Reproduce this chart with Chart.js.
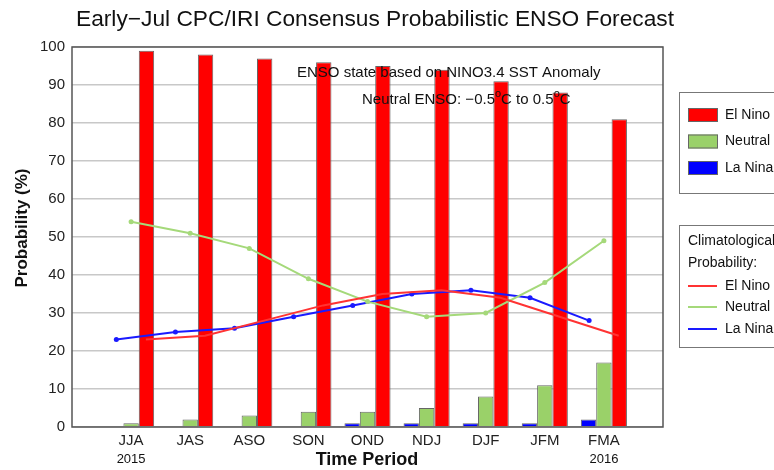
<!DOCTYPE html>
<html>
<head>
<meta charset="utf-8">
<script src="https://cdn.jsdelivr.net/npm/chart.js@4.4.1/dist/chart.umd.min.js"></script>
<style>
    html, body { margin: 0; padding: 0; background: #fff; }
    #wrap { position: relative; width: 774px; height: 470px; }
</style>
</head>
<body>
<div id="wrap"><canvas id="chart" width="774" height="470"></canvas></div>
<script>
// Сезоны прогноза и вероятности (%)
const PERIODS = ['JJA', 'JAS', 'ASO', 'SON', 'OND', 'NDJ', 'DJF', 'JFM', 'FMA'];
const EL_NINO = [99, 98, 97, 96, 95, 94, 91, 88, 81];
const NEUTRAL = [1, 2, 3, 4, 4, 5, 8, 11, 17];
const LA_NINA = [0, 0, 0, 0, 1, 1, 1, 1, 2];

// Климатологическая вероятность
const CLIM_EL_NINO = [23, 24, 28, 32, 35, 36, 34, 29, 24];
const CLIM_NEUTRAL = [54, 51, 47, 39, 33, 29, 30, 38, 49];
const CLIM_LA_NINA = [23, 25, 26, 29, 32, 35, 36, 34, 28];

const Y_TICKS = [0, 10, 20, 30, 40, 50, 60, 70, 80, 90, 100];
const YEARS = ['2015', '2016'];

const FONT = '"Liberation Sans", Arial, sans-serif';

const onDOMLoaded = () => {
    const ctx = document.getElementById('chart').getContext('2d');

    const toPoints = (values, shift) => values.map((v, i) => ({ x: i + shift, y: v }));

    /**
     * Рисуем заголовок, подписи осей, аннотацию и обе легенды поверх графика.
     */
    const decorations = {
        id: 'decorations',
        afterDatasetsDraw(chart) {
            const c = chart.ctx;
            const area = chart.chartArea;
            const xs = chart.scales.x;
            c.save();

            // рамка области построения
            c.strokeStyle = '#555';
            c.lineWidth = 1.5;
            c.strokeRect(area.left, area.top, area.right - area.left, area.bottom - area.top);

            c.fillStyle = '#111';
            c.textBaseline = 'middle';

            // заголовок
            c.font = '22px ' + FONT;
            c.textAlign = 'center';
            const title = 'Early\u2212Jul CPC/IRI Consensus Probabilistic ENSO Forecast';
            const tw = c.measureText(title).width;
            c.save();
            c.translate(375, 20);
            c.scale(598 / tw, 1);
            c.fillText(title, 0, 0);
            c.restore();

            // аннотация
            c.font = '15px ' + FONT;
            c.textAlign = 'left';
            c.fillText('ENSO state based on NINO3.4 SST Anomaly', 297, 73);
            let x = 362;
            const parts = [['Neutral ENSO: \u22120.5', 0], ['o', 1], ['C to 0.5', 0], ['o', 1], ['C', 0]];
            parts.forEach(([t, sup]) => {
                c.font = (sup ? '11px ' : '15px ') + FONT;
                c.fillText(t, x, sup ? 94 : 100);
                x += c.measureText(t).width;
            });

            // подписи осей
            c.font = 'bold 17px ' + FONT;
            c.textAlign = 'center';
            c.save();
            c.translate(22, 228);
            c.rotate(-Math.PI / 2);
            c.fillText('Probability (%)', 0, 0);
            c.restore();
            c.font = 'bold 18px ' + FONT;
            c.fillText('Time Period', 367, 460);

            c.font = '13px ' + FONT;
            c.fillText(YEARS[0], xs.getPixelForValue(0), 459);
            c.fillText(YEARS[1], xs.getPixelForValue(PERIODS.length - 1), 459);

            // легенда прогноза
            c.strokeStyle = '#777';
            c.lineWidth = 1;
            c.strokeRect(679.5, 92.5, 120, 101);
            c.textAlign = 'left';
            c.font = '14px ' + FONT;
            [['El Nino', '#ff0000', 115], ['Neutral', '#9ad169', 141.5], ['La Nina', '#0000ff', 168]].forEach(([t, col, y]) => {
                c.fillStyle = col;
                c.fillRect(688, y - 7, 30, 14);
                c.strokeStyle = '#666';
                c.strokeRect(688.5, y - 6.5, 29, 13);
                c.fillStyle = '#111';
                c.fillText(t, 725, y);
            });

            // легенда климатологии
            c.strokeStyle = '#777';
            c.strokeRect(679.5, 225.5, 120, 122);
            c.font = '14px ' + FONT;
            c.fillText('Climatological', 688, 241);
            c.fillText('Probability:', 688, 263);
            c.lineWidth = 2;
            [['El Nino', '#ff3333', 286], ['Neutral', '#a5d97a', 307], ['La Nina', '#1a1aff', 329]].forEach(([t, col, y]) => {
                c.strokeStyle = col;
                c.beginPath();
                c.moveTo(688, y);
                c.lineTo(717, y);
                c.stroke();
                c.fillStyle = '#111';
                c.fillText(t, 725, y);
            });

            c.restore();
        }
    };

    const barSet = (label, values, color) => ({
        type: 'bar',
        label,
        data: toPoints(values, 0),
        backgroundColor: color,
        borderColor: '#666',
        borderWidth: 1,
        categoryPercentage: 0.78,
        barPercentage: 1,
        order: 2
    });

    const lineSet = (label, values, shift, color, radius) => ({
        type: 'line',
        label,
        data: toPoints(values, shift),
        borderColor: color,
        backgroundColor: color,
        borderWidth: 2,
        pointRadius: radius,
        pointBorderWidth: 0,
        tension: 0,
        order: 1
    });

    new Chart(ctx, {
        data: {
            datasets: [
                barSet('La Nina', LA_NINA, '#0000ff'),
                barSet('Neutral', NEUTRAL, '#9ad169'),
                barSet('El Nino', EL_NINO, '#ff0000'),
                lineSet('Clim El Nino', CLIM_EL_NINO, 0.25, '#ff3333', 0),
                lineSet('Clim Neutral', CLIM_NEUTRAL, 0, '#a5d97a', 2.5),
                lineSet('Clim La Nina', CLIM_LA_NINA, -0.25, '#1a1aff', 2.5)
            ]
        },
        options: {
            responsive: false,
            animation: false,
            layout: { padding: { top: 47, right: 111, bottom: 0, left: 0 } },
            plugins: { legend: { display: false }, title: { display: false }, tooltip: { enabled: false } },
            scales: {
                x: {
                    type: 'linear',
                    offset: false,
                    min: -1,
                    max: PERIODS.length,
                    afterFit: (s) => { s.height = 43; },
                    afterBuildTicks: (s) => { s.ticks = PERIODS.map((p, i) => ({ value: i })); },
                    grid: { display: false, drawTicks: false },
                    border: { display: false },
                    ticks: {
                        callback: (v) => PERIODS[v],
                        font: { family: FONT, size: 15 },
                        color: '#222',
                        padding: 5,
                        maxRotation: 0,
                        autoSkip: false
                    }
                },
                y: {
                    min: 0,
                    max: 100,
                    afterFit: (s) => { s.width = 72; },
                    afterBuildTicks: (s) => { s.ticks = Y_TICKS.map((v) => ({ value: v })); },
                    grid: { color: '#c8c8c8', lineWidth: 1.5, drawTicks: false },
                    border: { display: false },
                    ticks: {
                        font: { family: FONT, size: 15 },
                        color: '#222',
                        padding: 7
                    }
                }
            }
        },
        plugins: [decorations]
    });
};

document.addEventListener('DOMContentLoaded', onDOMLoaded);
</script>
</body>
</html>
